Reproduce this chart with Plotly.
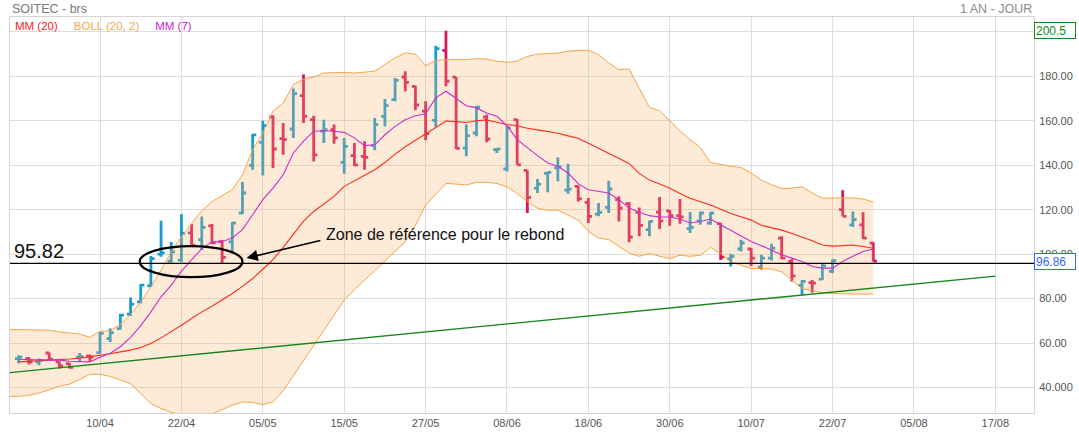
import plotly.graph_objects as go

# ---------------- data ----------------
bar_idx = list(range(85))
opens = [53.0, 53.0, 51.5, 55.5, 51.5, 50.7, 53.6, 54.2, 55.7, 62.0,
         66.5, 73.0, 78.5, 85.7, 100.0, 96.8, 97.3, 109.6, 106.5, 112.7,
         105.6, 105.5, 118.5, 139.9, 150.3, 161.7, 152.0, 156.3, 171.3, 160.5,
         155.3, 156.0, 141.3, 144.3, 144.0, 148.8, 162.0, 169.5, 179.7, 175.5,
         164.3, 160.2, 191.7, 179.6, 147.7, 154.5, 161.6, 147.0, 138.3, 160.5,
         137.7, 129.7, 136.3, 138.8, 128.8, 130.5, 123.3, 118.0, 121.0, 124.5,
         122.7, 118.8, 111.0, 118.9, 119.5, 117.3, 111.5, 115.0, 114.0, 113.7,
         97.9, 102.3, 102.3, 94.1, 98.2, 107.2, 96.7, 85.9, 87.2, 88.7,
         92.2, 120.0, 113.2, 113.2, 105.0]
highs = [54.5, 53.7, 53.0, 55.7, 51.8, 51.0, 55.5, 54.8, 65.0, 66.5,
         73.2, 80.5, 86.5, 99.1, 115.0, 105.5, 117.9, 113.4, 116.9, 113.5,
         106.3, 114.5, 132.4, 154.0, 160.0, 162.5, 159.0, 174.5, 180.8, 162.3,
         160.5, 158.3, 152.3, 150.0, 150.8, 161.3, 169.8, 179.3, 182.3, 175.8,
         168.8, 193.8, 200.5, 179.7, 158.3, 166.8, 162.8, 147.8, 157.8, 160.8,
         137.7, 133.8, 137.2, 143.5, 140.7, 131.0, 125.2, 123.0, 133.0, 126.0,
         123.4, 121.0, 115.0, 125.7, 119.7, 124.8, 118.9, 119.2, 118.8, 114.0,
         100.2, 106.5, 102.7, 99.7, 104.7, 108.0, 97.9, 88.4, 88.4, 95.6,
         97.7, 128.7, 119.2, 118.8, 105.3]
lows = [50.8, 50.3, 50.0, 52.3, 48.5, 48.5, 51.8, 51.8, 55.3, 60.5,
        66.1, 72.1, 77.8, 85.3, 98.8, 96.1, 96.5, 103.6, 101.8, 104.5,
        95.8, 101.0, 118.0, 138.0, 135.4, 138.7, 144.7, 152.3, 159.0, 141.7,
        150.0, 149.7, 136.2, 139.5, 138.0, 146.7, 157.5, 168.8, 173.3, 164.7,
        151.2, 157.2, 175.5, 147.3, 144.0, 153.0, 150.3, 145.5, 137.2, 140.2,
        118.5, 127.5, 127.8, 132.7, 127.2, 123.7, 114.0, 117.0, 118.5, 114.7,
        105.3, 108.0, 108.0, 111.3, 112.8, 113.7, 109.5, 113.2, 113.2, 97.4,
        94.4, 101.2, 94.7, 93.0, 97.1, 97.7, 87.7, 81.7, 82.7, 88.4,
        91.4, 117.0, 112.2, 106.8, 96.7]
closes = [53.6, 51.5, 52.2, 52.7, 49.7, 49.0, 54.0, 53.6, 64.3, 64.7,
          72.5, 77.5, 86.0, 98.0, 100.6, 101.0, 109.3, 104.0, 112.0, 105.1,
          98.5, 114.0, 127.5, 153.7, 157.8, 147.3, 151.5, 172.2, 162.0, 144.7,
          156.0, 152.3, 148.5, 140.2, 143.5, 158.3, 166.8, 178.2, 177.3, 167.1,
          154.2, 192.5, 177.8, 147.6, 153.3, 166.1, 151.8, 147.3, 156.8, 140.2,
          125.5, 131.5, 136.8, 139.2, 129.2, 124.9, 117.0, 118.8, 129.3, 120.7,
          107.7, 112.9, 114.7, 115.0, 117.3, 116.8, 112.0, 118.5, 118.5, 98.6,
          99.0, 105.0, 98.2, 98.2, 102.7, 98.2, 90.2, 87.7, 86.9, 94.7,
          97.1, 117.0, 115.5, 107.2, 96.86]

mm7 = [52.6, 52.5, 52.4, 52.4, 52.3, 51.8, 51.6, 51.5, 53.6, 55.4,
       58.3, 62.5, 67.8, 74.0, 80.8, 86.0, 92.3, 97.5, 102.5, 105.5,
       105.6, 107.3, 111.0, 117.7, 124.5, 129.7, 135.7, 145.5, 150.8, 155.3,
       155.5, 155.3, 154.8, 152.3, 148.8, 149.2, 153.7, 157.5, 160.5, 162.3,
       163.2, 170.3, 173.3, 170.0, 166.8, 165.8, 163.5, 162.0, 157.8, 151.5,
       147.7, 144.3, 141.0, 139.5, 136.5, 131.7, 129.0, 128.2, 127.5, 124.5,
       120.7, 118.8, 117.3, 116.7, 116.7, 115.8, 114.0, 114.7, 115.8, 113.2,
       110.7, 108.0, 105.7, 103.8, 101.7, 99.7, 98.2, 96.7, 94.4, 93.7,
       93.7, 96.7, 99.0, 101.2, 102.3]
mm20 = [51.5, 51.7, 51.9, 52.2, 52.5, 52.8, 53.2, 53.8, 54.5, 55.2,
        56.0, 56.8, 58.0, 59.8, 62.3, 65.0, 68.0, 71.0, 74.0, 76.5,
        79.3, 82.3, 85.5, 89.0, 93.2, 97.5, 103.0, 109.0, 114.8, 119.2,
        122.8, 126.0, 130.5, 133.0, 135.2, 138.0, 141.2, 145.0, 148.3, 151.2,
        154.4, 157.2, 159.9, 159.6, 159.2, 160.0, 160.4, 159.3, 158.3, 157.8,
        156.6, 155.9, 155.2, 154.4, 153.2, 152.1, 149.9, 147.6, 145.4, 143.0,
        140.8, 136.3, 133.3, 131.5, 129.6, 127.3, 125.1, 123.6, 122.1, 120.2,
        118.3, 116.8, 115.3, 113.0, 111.9, 110.8, 109.3, 107.8, 106.0, 104.1,
        103.6, 103.8, 104.1, 103.4, 102.6]

band_idx = list(range(-1, 85))
boll_up = [66.1, 66.1, 66.1, 66.0, 65.8, 65.0, 64.6, 64.0, 62.6, 65.3, 65.5,
           68.5, 72.8, 78.5, 85.3, 92.8, 101.0, 107.8, 113.8, 119.5, 123.6,
           126.3, 129.0, 135.7, 147.0, 154.5, 164.3, 168.0, 176.3, 178.8, 179.7,
           181.5, 181.8, 181.8, 181.5, 181.8, 182.3, 185.3, 188.3, 190.5, 190.0,
           184.8, 187.2, 187.5, 187.5, 187.5, 188.0, 187.8, 186.8, 186.3, 186.8,
           189.0, 190.0, 190.2, 190.5, 191.3, 191.7, 191.7, 189.8, 186.0, 183.0,
           183.3, 175.0, 166.0, 164.5, 160.0, 155.5, 151.5, 148.0, 141.2, 140.2,
           139.5, 139.0, 136.5, 133.3, 131.2, 129.5, 129.7, 130.3, 127.5, 125.2,
           125.2, 125.2, 125.3, 124.8, 123.5]
boll_dn = [36.0, 36.0, 36.5, 37.5, 39.0, 40.5, 41.5, 43.5, 45.9, 45.9, 45.0,
           43.5, 41.7, 37.3, 32.7, 30.5, 28.8, 27.8, 27.3, 27.3, 28.0,
           30.0, 32.0, 33.5, 33.3, 32.3, 33.5, 38.5, 45.2, 52.3, 59.0,
           65.8, 72.5, 79.3, 84.0, 88.3, 92.5, 96.8, 101.0, 105.5, 113.0,
           122.0, 127.0, 131.8, 131.5, 131.1, 132.3, 132.3, 131.8, 130.3, 127.3,
           123.6, 120.6, 119.8, 119.8, 117.6, 115.3, 110.2, 107.2, 106.5, 103.5,
           100.5, 99.0, 100.3, 99.0, 98.0, 99.5, 99.0, 99.5, 103.0, 100.3,
           96.5, 95.0, 93.5, 93.5, 93.3, 92.0, 88.3, 84.5, 83.5, 82.6,
           82.3, 82.1, 82.0, 82.0, 82.0]

trend_x = [-1, 96]
trend_y = [46.6, 90.1]

ref_level = 95.82
top_high = 200.5
last_close = 96.86

tick_pos = [8, 16, 24, 32, 40, 48, 56, 64, 72, 80, 88, 96]
tick_txt = ["10/04", "22/04", "05/05", "15/05", "27/05", "08/06",
            "18/06", "30/06", "10/07", "22/07", "05/08", "17/08"]
ytick_vals = [40, 60, 80, 100, 120, 140, 160, 180, 200]
ytick_txt = ["40.000", "60.00", "80.00", "100.00", "120.00",
             "140.00", "160.00", "180.00", ""]

# ---------------- styling ----------------
FONT = "Liberation Sans, Arial, sans-serif"
UP = "#1b9ad0"
DOWN = "#d6145c"
BAND = "#f6a544"

fig = go.Figure()

fig.add_trace(go.Scatter(x=band_idx, y=boll_dn, mode="lines",
                         line=dict(color=BAND, width=1), hoverinfo="skip"))
fig.add_trace(go.Scatter(x=band_idx, y=boll_up, mode="lines",
                         line=dict(color=BAND, width=1), fill="tonexty",
                         fillcolor="rgba(246,180,110,0.27)", hoverinfo="skip"))
fig.add_trace(go.Scatter(x=trend_x, y=trend_y, mode="lines",
                         line=dict(color="#16861a", width=1.4), hoverinfo="skip"))
fig.add_trace(go.Ohlc(x=bar_idx, open=opens, high=highs, low=lows, close=closes,
                      tickwidth=0.36,
                      increasing=dict(line=dict(color=UP, width=2.8)),
                      decreasing=dict(line=dict(color=DOWN, width=2.8))))
fig.add_trace(go.Scatter(x=bar_idx, y=mm20, mode="lines",
                         line=dict(color="#ff2a1c", width=1.1), hoverinfo="skip"))
fig.add_trace(go.Scatter(x=bar_idx, y=mm7, mode="lines",
                         line=dict(color="#cc2ccc", width=1.1), hoverinfo="skip"))

# reference horizontal line
fig.add_shape(type="line", xref="paper", x0=0, x1=1, yref="y",
              y0=ref_level, y1=ref_level, line=dict(color="black", width=1.3))
# ellipse around the zone
fig.add_shape(type="circle", xref="x", yref="y", x0=11.9, x1=22.0,
              y0=89.6, y1=103.6, line=dict(color="black", width=2.2))

annotations = [
    dict(xref="paper", yref="y", x=0, xshift=2, y=ref_level, yshift=12,
         text=f"{ref_level:.2f}", showarrow=False, xanchor="left",
         font=dict(family=FONT, size=20, color="#111")),
    dict(xref="x", yref="y", x=30.0, y=108.9, text="Zone de référence pour le rebond",
         showarrow=False, xanchor="left", font=dict(family=FONT, size=16, color="#111")),
    dict(xref="x", yref="y", x=22.4, y=98.2, ax=29.8, ay=106.3,
         axref="x", ayref="y", text="", showarrow=True, arrowhead=2,
         arrowsize=1.4, arrowwidth=1.6, arrowcolor="black"),
    dict(xref="paper", yref="paper", x=0, y=1, yshift=17, xanchor="left",
         yanchor="top", text="SOITEC - brs", showarrow=False,
         font=dict(family=FONT, size=12.5, color="#7a7a7a")),
    dict(xref="paper", yref="paper", x=1, y=1, yshift=17, xanchor="right",
         yanchor="top", text="1 AN - JOUR", showarrow=False,
         font=dict(family=FONT, size=12.5, color="#8a8a8a")),
    dict(xref="paper", yref="paper", x=0, xshift=3, y=1, yshift=-1, xanchor="left",
         yanchor="top", showarrow=False,
         text="<span style='color:#ff1a1a'>MM (20)</span>"
              "     <span style='color:#f7a84a'>BOLL (20, 2)</span>"
              "     <span style='color:#cc22cc'>MM (7)</span>",
         font=dict(family=FONT, size=11.5)),
    dict(xref="paper", yref="y", x=1, y=top_high, xanchor="left", xshift=0,
         text=f"{top_high}", showarrow=False, align="left", width=38, height=13,
         bordercolor="#118811", borderwidth=1, borderpad=1, bgcolor="white",
         font=dict(family=FONT, size=12, color="#118811")),
    dict(xref="paper", yref="y", x=1, y=last_close, xanchor="left", xshift=0,
         text=f"{last_close:.2f}", showarrow=False, align="left", width=38, height=13,
         bordercolor="#3366ff", borderwidth=1, borderpad=1, bgcolor="white",
         font=dict(family=FONT, size=12, color="#3366ff")),
]

fig.update_layout(
    width=1079, height=434,
    margin=dict(l=10, r=45, t=17, b=21),
    paper_bgcolor="white", plot_bgcolor="white",
    showlegend=False,
    annotations=annotations,
    font=dict(family=FONT, size=11, color="#555"),
    xaxis=dict(range=[-0.85, 99.8], tickmode="array", tickvals=tick_pos,
               ticktext=tick_txt, showgrid=True, gridcolor="#dddddd", gridwidth=1,
               zeroline=False, showline=True, linecolor="#d4d4d4", mirror=True,
               ticks="", rangeslider=dict(visible=False), automargin=False,
               tickfont=dict(family=FONT, size=11, color="#555")),
    yaxis=dict(range=[28.5, 206.7], side="right", tickmode="array",
               tickvals=ytick_vals, ticktext=ytick_txt, showgrid=True,
               gridcolor="#dddddd", gridwidth=1, zeroline=False, showline=True,
               linecolor="#d4d4d4", mirror=True, ticks="outside", ticklen=2,
               tickcolor="rgba(0,0,0,0)", automargin=False,
               tickfont=dict(family=FONT, size=11, color="#555")),
)

fig.write_html("out.html")
